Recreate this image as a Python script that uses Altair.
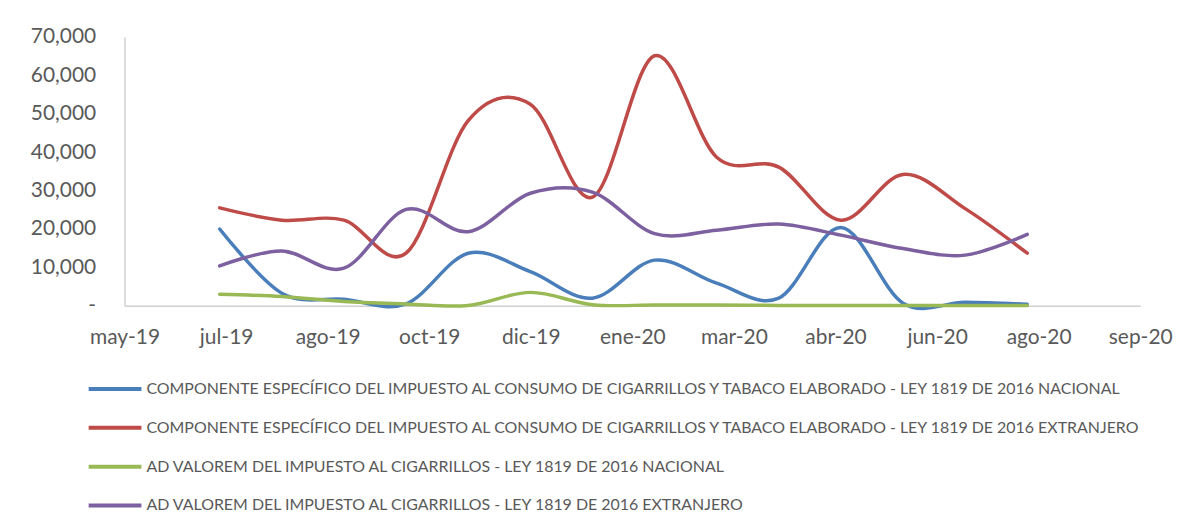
import altair as alt
import pandas as pd

months = ["jul-19", "ago-19", "sep-19", "oct-19", "nov-19", "dic-19", "ene-20",
          "feb-20", "mar-20", "abr-20", "may-20", "jun-20", "jul-20", "ago-20"]

series_names = [
    "COMPONENTE ESPECÍFICO DEL IMPUESTO AL CONSUMO DE CIGARRILLOS Y TABACO ELABORADO - LEY 1819 DE 2016 NACIONAL",
    "COMPONENTE ESPECÍFICO DEL IMPUESTO AL CONSUMO DE CIGARRILLOS Y TABACO ELABORADO - LEY 1819 DE 2016 EXTRANJERO",
    "AD VALOREM DEL IMPUESTO AL CIGARRILLOS - LEY 1819 DE 2016 NACIONAL",
    "AD VALOREM DEL IMPUESTO AL CIGARRILLOS - LEY 1819 DE 2016 EXTRANJERO",
]

especifico_nacional = [20000, 3300, 1700, 500, 13700, 8900, 2000, 11900, 5900, 2000, 20400, 700, 900, 400]
especifico_extranjero = [25500, 22300, 22300, 13700, 48200, 52500, 28300, 65100, 38700, 36100, 22300, 34200, 25300, 13700]
advalorem_nacional = [3000, 2400, 1100, 500, 100, 3500, 300, 200, 200, 100, 100, 100, 100, 100]
advalorem_extranjero = [10400, 14300, 9800, 25100, 19300, 29300, 29600, 18800, 19700, 21300, 18400, 14900, 13200, 18600]

axis_labels = ["may-19", "jul-19", "ago-19", "oct-19", "dic-19", "ene-20",
               "mar-20", "abr-20", "jun-20", "ago-20", "sep-20"]

colors = ["#4A7EBB", "#BE4B48", "#98B954", "#7D60A0"]

rows = []
for name, vals in zip(series_names, [especifico_nacional, especifico_extranjero,
                                     advalorem_nacional, advalorem_extranjero]):
    for i, (m, v) in enumerate(zip(months, vals)):
        rows.append({"serie": name, "idx": i, "mes": m, "valor": v})
df = pd.DataFrame(rows)

x0 = -1.532
step = 1.635
ticks = [x0 + k * step for k in range(len(axis_labels))]
label_expr = "[" + ",".join("'%s'" % l for l in axis_labels) + "][round((datum.value - (%f)) / %f)]" % (x0, step)

FONT = "Lato"
GREY = "#595959"

chart = alt.Chart(df).mark_line(
    interpolate="cardinal", strokeWidth=3.5, strokeCap="round", strokeJoin="round"
).encode(
    x=alt.X("idx:Q",
            scale=alt.Scale(domain=[ticks[0], ticks[-1]], nice=False, zero=False),
            axis=alt.Axis(values=ticks, labelExpr=label_expr, title=None, grid=False,
                          ticks=False, tickSize=0, labelPadding=21, labelFontSize=21,
                          labelFont=FONT, labelColor=GREY, domainColor="#D0D0D0",
                          domainWidth=1.5, labelFlush=False)),
    y=alt.Y("valor:Q",
            scale=alt.Scale(domain=[0, 70000], nice=False),
            axis=alt.Axis(values=list(range(0, 70001, 10000)),
                          labelExpr="datum.value == 0 ? '-' : format(datum.value, ',')",
                          title=None, grid=False, ticks=False, tickSize=0,
                          labelPadding=29, labelFontSize=21, labelFont=FONT,
                          labelColor=GREY, domainColor="#D0D0D0", domainWidth=1.5)),
    color=alt.Color("serie:N",
                    scale=alt.Scale(domain=series_names, range=colors),
                    legend=alt.Legend(title=None, orient="none", legendX=-38, legendY=325,
                                      direction="vertical", symbolType="stroke",
                                      symbolSize=2809, symbolStrokeWidth=4,
                                      labelFont=FONT, labelFontSize=16, labelColor=GREY,
                                      labelLimit=1500, rowPadding=2, labelOffset=3,
                                      padding=0)),
    detail="serie:N",
).properties(
    width=1020,
    height=270,
    background="white",
    autosize=alt.AutoSizeParams(type="none"),
    padding={"left": 117, "top": 28, "right": 50, "bottom": 214},
).configure_view(stroke=None)

chart.save("out.html", embed_options={"renderer": "svg", "actions": False})
